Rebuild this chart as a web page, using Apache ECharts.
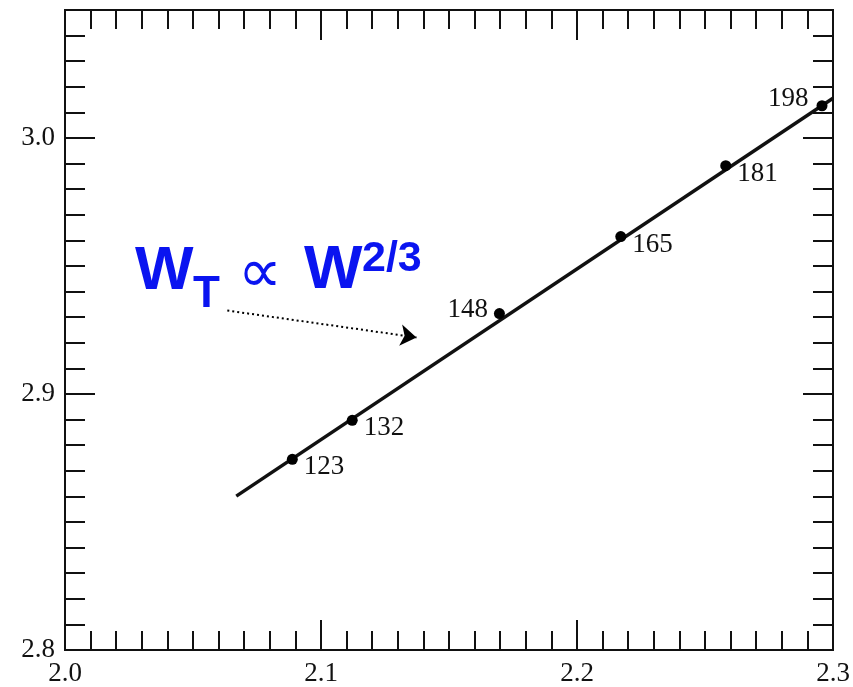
<!DOCTYPE html>
<html>
<head>
<meta charset="utf-8">
<script src="https://cdn.jsdelivr.net/npm/echarts@6/dist/echarts.min.js"></script>
<style>
  html, body { margin: 0; padding: 0; background: #fff; }
  #chart { width: 853px; height: 687px; }
</style>
</head>
<body>
<div id="chart"></div>
<script>
// Measured points: log mass (x) vs log quantity (y), tagged by body mass
const pointX = [2.0888, 2.1122, 2.1697, 2.2171, 2.2581, 2.2957];
const pointY = [2.8745, 2.8897, 2.9314, 2.9615, 2.9892, 3.0126];
const pointTags = ['123', '132', '148', '165', '181', '198'];
// Which side of the dot each tag sits on
const tagSide = ['right', 'right', 'left', 'right', 'right', 'left'];

// Fitted line end points (slope 2/3)
const fitX = [2.0669, 2.3];
const fitY = [2.8601, 3.0155];

// Dotted pointer from the formula toward the line
const arrowX = [2.0634, 2.1373];
const arrowY = [2.9326, 2.9221];

const xTicks = ['2.0', '2.1', '2.2', '2.3'];
const yTicks = ['2.8', '2.9', '3.0'];

const serif = '"Liberation Serif", "DejaVu Serif", serif';
const sans = '"Liberation Sans", Arial, sans-serif';
const ink = '#111';
const blue = '#0a14f0';

const tagOffset = {
  right: [0, 8],
  left: [0, -4]
};

const scatterData = pointX.map((x, i) => ({
  value: [x, pointY[i]],
  label: {
    show: true,
    formatter: pointTags[i],
    position: tagSide[i],
    distance: i === 5 ? 8 : 6,
    offset: i === 5 ? [0, -7] : tagOffset[tagSide[i]]
  }
}));

const commonX = {
  type: 'value', min: 2.0, max: 2.3, interval: 0.1,
  axisLine: { show: true, lineStyle: { color: ink, width: 2 } },
  axisTick: { show: true, inside: true, length: 30, lineStyle: { color: ink, width: 2 } },
  minorTick: { show: true, splitNumber: 10, length: 19, lineStyle: { color: ink, width: 2 } },
  splitLine: { show: false },
  minorSplitLine: { show: false }
};

function yAxisDef(pos, step, tickLen, withLabels) {
  return {
    type: 'value', position: pos, min: 2.8, max: 3.05, interval: step, offset: 0,
    axisLine: { show: true, onZero: false, lineStyle: { color: ink, width: 2 } },
    axisTick: { show: true, inside: true, length: tickLen, lineStyle: { color: ink, width: 2 } },
    axisLabel: withLabels ? {
      show: true, margin: 10, showMaxLabel: false,
      fontFamily: serif, fontSize: 27, color: ink,
      formatter: v => {
        const s = v.toFixed(1);
        return yTicks.indexOf(s) >= 0 && Math.abs(v - parseFloat(s)) < 1e-6 ? s : '';
      }
    } : { show: false },
    splitLine: { show: false }
  };
}

// One piece of the blue formula, centred vertically on y
function formulaPart(text, x, y, size, weight, family, align) {
  return {
    type: 'text', x: x, y: y, silent: true,
    style: {
      text: text, fill: blue,
      font: weight + ' ' + size + 'px ' + family,
      align: align || 'left', verticalAlign: 'middle'
    }
  };
}

const chart = echarts.init(document.getElementById('chart'), null, { renderer: 'canvas' });

chart.setOption({
  backgroundColor: '#fff',
  animation: false,
  grid: { left: 65, right: 20, top: 10, bottom: 36, containLabel: false },
  xAxis: [
    Object.assign({}, commonX, {
      position: 'bottom',
      axisLabel: {
        show: true, margin: 10, fontFamily: serif, fontSize: 27, color: ink,
        formatter: v => {
          const s = v.toFixed(1);
          return xTicks.indexOf(s) >= 0 ? s : '';
        }
      }
    }),
    Object.assign({}, commonX, { position: 'top', axisLabel: { show: false } })
  ],
  yAxis: [
    yAxisDef('left', 0.1, 30, true),
    yAxisDef('left', 0.01, 20, false),
    yAxisDef('right', 0.1, 30, false),
    yAxisDef('right', 0.01, 20, false)
  ],
  series: [
    {
      type: 'line',
      xAxisIndex: 0, yAxisIndex: 0,
      data: fitX.map((x, i) => [x, fitY[i]]),
      symbol: 'none',
      lineStyle: { color: ink, width: 3.5 },
      z: 2
    },
    {
      type: 'scatter',
      xAxisIndex: 0, yAxisIndex: 0,
      data: scatterData,
      symbol: 'circle',
      symbolSize: 11,
      itemStyle: { color: '#000', opacity: 1 },
      label: { fontFamily: serif, fontSize: 27, color: ink, opacity: 1 },
      emphasis: { disabled: true },
      z: 3
    },
    {
      type: 'lines',
      coordinateSystem: 'cartesian2d',
      xAxisIndex: 0, yAxisIndex: 0,
      symbol: ['none', 'arrow'],
      symbolSize: [0, 16],
      lineStyle: { color: '#000', width: 2, type: [2, 3], curveness: 0, opacity: 1 },
      data: [{ coords: [[arrowX[0], arrowY[0]], [arrowX[1], arrowY[1]]] }],
      z: 4
    }
  ],
  graphic: [
    formulaPart('W', 135, 272, 62, 'bold', sans),
    formulaPart('T', 193, 295, 44, 'bold', sans),
    formulaPart('∝', 260, 276, 62, 'normal', '"DejaVu Sans", sans-serif', 'center'),
    formulaPart('W', 304, 271, 62, 'bold', sans),
    formulaPart('2/3', 362, 259, 43, 'bold', sans)
  ]
});
</script>
</body>
</html>
